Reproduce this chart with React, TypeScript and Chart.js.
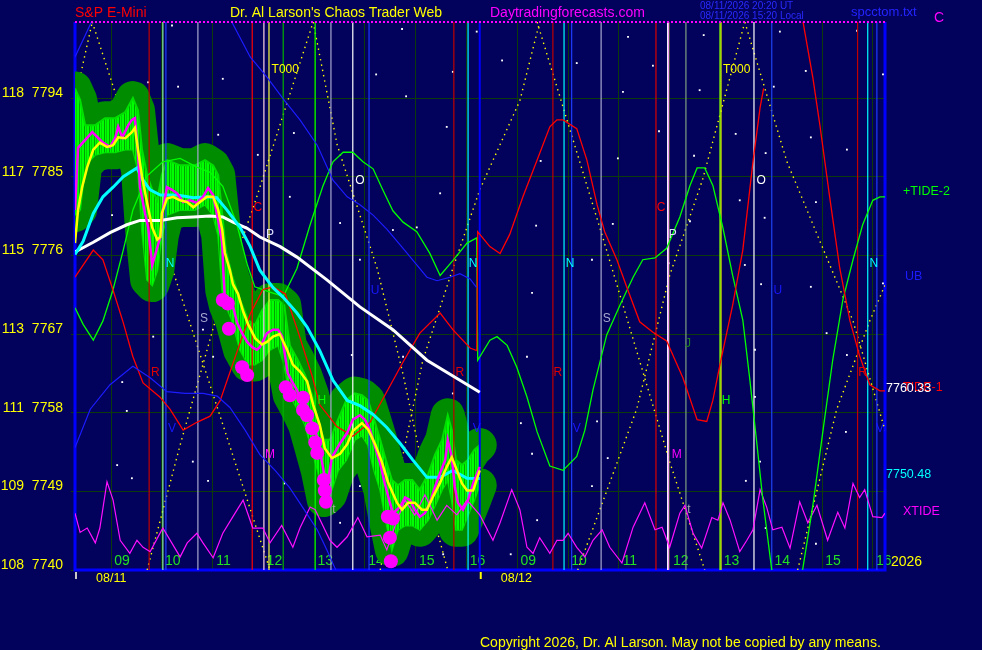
import { useEffect, useRef } from "react"
import { Chart, registerables, type ChartConfiguration, type Plugin } from "chart.js"

Chart.register(...registerables)

// x values are session hours: day 1 = hour, day 2 = hour + 8
const X_MIN = 8.29
const X_MAX = 24.24
const Y_MIN = 7740
const Y_MAX = 7802.7

const hourTicks = [9, 10, 11, 12, 13, 14, 15, 16, 17, 18, 19, 20, 21, 22, 23, 24]
const hourLabels = ["09", "10", "11", "12", "13", "14", "15", "16", "09", "10", "11", "12", "13", "14", "15", "16"]
const dayStarts = [8.29, 16.26]
const dayLabels = ["08/11", "08/12"]

const priceTicks = [7740, 7749, 7758, 7767, 7776, 7785, 7794]
const altTicks = ["108", "109", "111", "113", "115", "117", "118"]

// E-mini closes (magenta)
const price: [number, number][] = [
  [8.29, 7781.2], [8.35, 7788.3], [8.63, 7790.1], [8.82, 7789.0], [8.98, 7788.4], [9.08, 7789.4],
  [9.14, 7790.7], [9.22, 7789.5], [9.34, 7790.9], [9.41, 7791.5], [9.47, 7791.7], [9.53, 7787.7],
  [9.57, 7783.8], [9.67, 7780.8], [9.73, 7779.2], [9.81, 7774.9], [9.97, 7778.1], [10.02, 7781.2],
  [10.1, 7783.8], [10.2, 7783.5], [10.3, 7783.1], [10.42, 7782.1], [10.56, 7782.3], [10.69, 7782.0],
  [10.81, 7782.7], [10.91, 7783.7], [11.01, 7782.9], [11.11, 7780.0], [11.19, 7777.4], [11.21, 7774.3],
  [11.24, 7771.2], [11.38, 7770.7], [11.48, 7768.3], [11.58, 7767.1], [11.68, 7766.1], [11.78, 7765.5],
  [11.87, 7765.2], [11.93, 7765.5], [12.07, 7767.1], [12.19, 7767.5], [12.29, 7767.5], [12.37, 7766.7],
  [12.43, 7764.4], [12.48, 7762.5], [12.58, 7761.4], [12.66, 7760.6], [12.76, 7759.1], [12.86, 7758.0],
  [12.96, 7756.8], [13.06, 7755.2], [13.11, 7753.7], [13.21, 7750.6], [13.25, 7749.5], [13.35, 7752.9],
  [13.51, 7754.5], [13.65, 7755.7], [13.76, 7757.2], [13.9, 7757.7], [14.0, 7757.2], [14.1, 7756.0],
  [14.2, 7754.1], [14.3, 7752.2], [14.39, 7749.9], [14.49, 7747.7], [14.55, 7746.5], [14.69, 7747.2],
  [14.79, 7748.3], [14.89, 7748.0], [14.98, 7746.9], [15.08, 7746.1], [15.18, 7746.5], [15.28, 7747.7],
  [15.38, 7749.5], [15.48, 7751.1], [15.58, 7752.6], [15.63, 7754.9], [15.71, 7752.9], [15.77, 7749.5],
  [15.83, 7747.7], [15.93, 7746.9], [16.03, 7748.0], [16.13, 7749.9], [16.26, 7751.8],
]

// bar range envelope: [time, high, low]
const barRange: [number, number, number][] = [
  [8.29, 7795.1, 7780.6], [8.39, 7793.8, 7781.2], [8.49, 7790.9, 7786.3], [8.69, 7790.9, 7787.5],
  [8.88, 7791.7, 7787.8], [9.08, 7791.7, 7787.8], [9.28, 7792.4, 7788.1], [9.43, 7794.0, 7788.1],
  [9.53, 7792.6, 7785.8], [9.61, 7788.1, 7778.9], [9.71, 7785.2, 7773.2], [9.81, 7783.5, 7772.6],
  [9.91, 7782.3, 7774.3], [10.0, 7785.2, 7778.3], [10.1, 7786.9, 7780.6], [10.36, 7786.3, 7781.2],
  [10.65, 7786.3, 7781.2], [10.85, 7786.9, 7781.8], [11.01, 7786.3, 7780.6], [11.11, 7785.2, 7778.3],
  [11.19, 7780.6, 7772.0], [11.26, 7776.6, 7770.3], [11.38, 7773.7, 7768.6], [11.54, 7770.9, 7765.2],
  [11.7, 7768.6, 7763.5], [11.83, 7768.0, 7763.5], [11.97, 7769.7, 7764.0], [12.13, 7770.9, 7765.2],
  [12.29, 7770.9, 7765.7], [12.41, 7770.3, 7763.5], [12.52, 7765.7, 7760.0], [12.68, 7764.0, 7758.3],
  [12.82, 7762.3, 7756.6], [12.96, 7760.0, 7753.7], [13.07, 7757.2, 7751.4], [13.19, 7754.9, 7748.0],
  [13.31, 7754.9, 7748.6], [13.47, 7757.2, 7751.4], [13.63, 7759.4, 7752.6], [13.8, 7760.2, 7754.9],
  [13.94, 7760.0, 7755.4], [14.06, 7759.4, 7754.3], [14.18, 7757.2, 7751.4], [14.3, 7754.9, 7749.2],
  [14.41, 7752.6, 7745.7], [14.53, 7750.3, 7742.3], [14.65, 7749.7, 7744.6], [14.79, 7750.3, 7745.1],
  [14.93, 7750.3, 7745.1], [15.08, 7749.2, 7744.6], [15.24, 7750.9, 7745.7], [15.38, 7753.2, 7747.4],
  [15.52, 7754.9, 7749.2], [15.63, 7757.7, 7750.3], [15.71, 7756.0, 7748.0], [15.79, 7752.6, 7744.6],
  [15.91, 7752.0, 7744.6], [16.03, 7752.6, 7746.3], [16.15, 7753.7, 7748.0], [16.26, 7754.3, 7749.7],
]

const fastAvg: [number, number][] = [
  [8.29, 7777.4], [8.35, 7781.2], [8.43, 7783.8], [8.53, 7786.1], [8.65, 7788.1], [8.78, 7788.9],
  [8.92, 7788.4], [9.04, 7788.6], [9.14, 7789.5], [9.28, 7789.4], [9.41, 7790.1], [9.47, 7790.6],
  [9.53, 7788.1], [9.61, 7785.0], [9.71, 7782.0], [9.81, 7779.2], [9.91, 7777.8], [9.97, 7778.1],
  [10.0, 7780.8], [10.1, 7782.5], [10.22, 7782.7], [10.36, 7782.3], [10.5, 7782.1], [10.62, 7781.5],
  [10.75, 7782.1], [10.89, 7782.7], [11.01, 7782.7], [11.11, 7781.2], [11.19, 7778.9], [11.24, 7776.3],
  [11.34, 7774.3], [11.4, 7772.7], [11.5, 7771.6], [11.6, 7769.6], [11.7, 7768.1], [11.84, 7766.5],
  [11.97, 7765.8], [12.07, 7766.1], [12.19, 7766.7], [12.32, 7767.0], [12.46, 7765.3], [12.58, 7763.5],
  [12.72, 7762.7], [12.86, 7761.6], [12.98, 7758.9], [13.11, 7756.6], [13.21, 7753.9], [13.35, 7752.8],
  [13.51, 7753.3], [13.65, 7754.4], [13.76, 7755.9], [13.94, 7756.8], [14.06, 7756.1], [14.2, 7754.4],
  [14.33, 7752.4], [14.45, 7750.1], [14.63, 7747.7], [14.73, 7746.9], [14.85, 7747.7], [14.98, 7747.7],
  [15.12, 7746.9], [15.22, 7746.9], [15.34, 7748.4], [15.48, 7750.0], [15.61, 7751.8], [15.71, 7752.9],
  [15.81, 7751.4], [15.91, 7749.9], [16.01, 7749.1], [16.13, 7749.1], [16.26, 7751.4],
]

const midAvg: [number, number][] = [
  [8.29, 7776.1], [8.45, 7777.6], [8.65, 7780.8], [8.84, 7782.7], [9.04, 7783.8], [9.24, 7785.0],
  [9.51, 7786.0], [9.63, 7784.6], [9.77, 7783.5], [9.97, 7782.9], [10.3, 7782.9], [10.62, 7782.6],
  [10.89, 7782.7], [11.08, 7782.6], [11.28, 7781.2], [11.54, 7779.2], [11.74, 7777.0], [11.93, 7774.3],
  [12.19, 7772.3], [12.39, 7771.2], [12.66, 7769.4], [12.86, 7767.8], [13.11, 7765.1], [13.37, 7761.7],
  [13.65, 7759.4], [13.9, 7758.8], [14.16, 7757.8], [14.43, 7756.3], [14.69, 7754.5], [14.94, 7752.6],
  [15.22, 7750.6], [15.48, 7750.6], [15.73, 7751.4], [16.01, 7750.5], [16.26, 7750.48],
]

const slowAvg: [number, number][] = [
  [8.29, 7776.4], [8.65, 7777.5], [8.98, 7778.6], [9.31, 7779.5], [9.57, 7780.0], [9.97, 7780.0],
  [10.3, 7780.3], [10.62, 7780.4], [10.95, 7780.5], [11.2, 7780.4], [11.4, 7779.8], [11.68, 7779.1],
  [11.93, 7778.1], [12.33, 7777.0], [12.66, 7775.8], [13.25, 7773.2], [13.9, 7770.1], [14.55, 7767.5],
  [15.22, 7764.0], [15.87, 7761.7], [16.26, 7760.33],
]

const lowDots: [number, number][] = [
  [11.2, 7770.9], [11.3, 7770.5], [11.32, 7767.6], [11.58, 7763.2], [11.68, 7762.3], [12.44, 7760.9],
  [12.52, 7760.0], [12.78, 7759.7], [12.78, 7758.3], [12.86, 7757.7], [12.96, 7756.2], [13.02, 7754.6],
  [13.06, 7753.4], [13.19, 7750.3], [13.21, 7749.1], [13.23, 7747.8], [14.45, 7746.1], [14.55, 7745.9],
  [14.49, 7743.7], [14.51, 7741.0],
]

const tide1: [number, number | null][] = [
  [8.29, 7773.5], [8.65, 7776.6], [8.84, 7775.5], [9.04, 7772.0], [9.24, 7768.3], [9.43, 7764.4],
  [9.63, 7761.4], [9.96, 7759.8], [10.16, 7758.4], [10.42, 7756.0], [10.69, 7756.9], [10.95, 7757.6],
  [11.15, 7759.4], [11.44, 7764.3], [11.74, 7769.3], [11.99, 7772.1], [12.19, 7772.4], [12.43, 7771.6],
  [12.68, 7767.3], [12.96, 7762.2], [13.11, 7758.9], [13.45, 7756.4], [13.76, 7755.3], [14.1, 7756.9],
  [14.43, 7760.4], [14.75, 7763.8], [15.08, 7767.1], [15.48, 7769.4], [15.73, 7767.5], [16.07, 7765.4],
  [16.2, 7765.1], [16.22, 7778.7], [16.46, 7777.0], [16.66, 7776.2], [16.85, 7778.4], [17.11, 7782.7],
  [17.39, 7786.9], [17.64, 7790.7], [17.78, 7791.5], [17.9, 7791.5], [18.17, 7790.5], [18.37, 7786.9],
  [18.57, 7781.8], [18.72, 7778.7], [18.96, 7775.5], [19.16, 7772.3], [19.41, 7768.4], [19.67, 7767.2],
  [19.94, 7766.2], [20.26, 7762.0], [20.54, 7757.2], [20.73, 7757.0], [20.85, 7759.4], [20.99, 7763.5],
  [21.24, 7770.3], [21.44, 7776.6], [21.64, 7786.7], [21.78, 7792.9], [21.85, 7795.1], [22.3, null],
  [22.62, 7802.9], [22.82, 7796.3], [22.96, 7790.8], [23.15, 7782.7], [23.35, 7774.5], [23.55, 7768.5],
  [23.74, 7764.5], [23.94, 7761.2], [24.14, 7760.5], [24.24, 7760.5],
]

const tide2: [number, number][] = [
  [8.29, 7770.0], [8.45, 7768.1], [8.65, 7766.3], [8.84, 7768.5], [9.04, 7772.1], [9.24, 7776.6],
  [9.43, 7781.2], [9.71, 7785.1], [10.02, 7786.7], [10.36, 7787.1], [10.69, 7786.1], [10.95, 7785.5],
  [11.2, 7783.9], [11.48, 7779.5], [11.68, 7775.0], [11.83, 7772.4], [12.13, 7771.8], [12.39, 7771.3],
  [12.66, 7774.5], [12.92, 7779.5], [13.17, 7783.9], [13.37, 7786.7], [13.57, 7787.8], [13.76, 7787.8],
  [13.96, 7786.7], [14.16, 7785.9], [14.35, 7783.5], [14.55, 7781.1], [14.75, 7779.8], [15.02, 7778.7],
  [15.28, 7776.2], [15.48, 7773.7], [15.73, 7775.4], [16.01, 7777.4], [16.2, 7778.0], [16.22, 7764.0],
  [16.46, 7766.3], [16.6, 7766.7], [16.8, 7765.7], [16.99, 7763.2], [17.19, 7759.8], [17.39, 7755.8],
  [17.64, 7751.9], [17.9, 7751.4], [18.17, 7753.0], [18.33, 7756.0], [18.49, 7760.6], [18.76, 7766.9],
  [19.02, 7770.3], [19.28, 7773.5], [19.47, 7775.5], [19.71, 7775.7], [19.94, 7776.8], [20.2, 7780.4],
  [20.4, 7784.0], [20.54, 7786.0], [20.69, 7786.0], [20.85, 7784.0], [21.05, 7779.1], [21.24, 7773.7],
  [21.44, 7768.6], [21.58, 7761.7], [21.72, 7754.3], [21.83, 7748.3], [22.01, 7740.0], [22.21, 7735.4],
  [22.46, 7736.6], [22.62, 7740.1], [22.82, 7747.4], [23.02, 7756.0], [23.21, 7764.0], [23.41, 7770.9],
  [23.61, 7775.5], [23.8, 7779.5], [24.0, 7782.3], [24.14, 7782.7], [24.24, 7782.7],
]

const upperBand: [number, number | null][] = [
  [8.29, 7798.7], [8.72, 7804.0], [9.5, null], [11.26, 7804.0], [11.74, 7798.7], [12.07, 7796.4],
  [12.39, 7793.9], [12.72, 7791.5], [13.06, 7788.6], [13.37, 7784.6], [13.65, 7782.7], [13.9, 7781.8],
  [14.16, 7780.6], [14.43, 7779.0], [14.75, 7776.8], [15.02, 7774.9], [15.22, 7773.5], [15.42, 7773.1],
  [15.67, 7773.5], [15.87, 7773.9], [16.07, 7773.3], [16.2, 7772.3],
]

const lowerBand: [number, number][] = [
  [8.29, 7754.0], [8.59, 7758.4], [8.98, 7761.2], [9.43, 7763.3], [9.77, 7762.0], [10.1, 7760.4],
  [10.46, 7760.2], [10.81, 7760.2], [11.09, 7759.9], [11.34, 7758.6], [11.64, 7756.0], [11.93, 7753.2],
  [12.23, 7751.4], [12.52, 7749.4], [12.78, 7747.1], [13.06, 7744.6], [13.25, 7742.3], [13.51, 7738.9],
]

const xtide: [number, number][] = [
  [8.29, 7746.5], [8.39, 7744.3], [8.53, 7744.8], [8.69, 7743.1], [8.78, 7744.8], [8.92, 7750.1],
  [9.04, 7748.0], [9.18, 7743.4], [9.37, 7741.9], [9.51, 7743.4], [9.63, 7742.6], [9.77, 7742.1],
  [10.02, 7744.8], [10.36, 7741.5], [10.5, 7743.1], [10.69, 7744.2], [10.81, 7743.1], [11.01, 7741.4],
  [11.2, 7744.2], [11.4, 7746.1], [11.6, 7748.0], [11.69, 7746.5], [11.79, 7744.8], [11.99, 7744.8],
  [12.13, 7743.1], [12.36, 7745.1], [12.58, 7742.6], [12.72, 7744.8], [12.92, 7747.2], [13.02, 7746.9],
  [13.31, 7743.4], [13.45, 7742.6], [13.65, 7743.8], [13.86, 7746.0], [14.04, 7743.8], [14.3, 7744.0],
  [14.43, 7742.3], [14.63, 7745.7], [14.79, 7748.0], [14.98, 7746.3], [15.18, 7748.6], [15.42, 7745.7],
  [15.61, 7747.4], [15.81, 7746.3], [16.01, 7748.0], [16.26, 7746.3], [16.52, 7743.4], [16.66, 7745.4],
  [16.89, 7749.2], [17.05, 7746.9], [17.19, 7742.6], [17.31, 7741.9], [17.44, 7743.7], [17.64, 7741.9],
  [17.78, 7743.4], [17.9, 7743.4], [18.0, 7744.2], [18.17, 7742.6], [18.33, 7741.5], [18.49, 7743.4],
  [18.67, 7744.6], [18.82, 7742.6], [19.06, 7740.8], [19.28, 7744.9], [19.51, 7747.7], [19.71, 7744.6],
  [19.85, 7744.9], [20.0, 7742.6], [20.2, 7746.5], [20.3, 7747.4], [20.46, 7744.2], [20.63, 7742.5],
  [20.83, 7746.0], [20.95, 7745.7], [21.05, 7747.7], [21.19, 7745.7], [21.38, 7742.1], [21.52, 7743.4],
  [21.64, 7744.6], [21.78, 7749.2], [21.91, 7747.2], [22.03, 7744.6], [22.21, 7744.9], [22.37, 7742.5],
  [22.56, 7747.8], [22.72, 7745.4], [22.9, 7747.4], [23.11, 7743.4], [23.31, 7746.6], [23.45, 7744.8],
  [23.61, 7749.9], [23.74, 7748.3], [23.84, 7749.2], [24.0, 7746.1], [24.18, 7746.0], [24.24, 7746.5],
]

// dotted time-price guides
const guideLines: [number, number][][] = [
  [[8.29, 7793.8], [8.63, 7802.7]],
  [[8.63, 7802.7], [12.13, 7740.0]],
  [[9.71, 7740.0], [10.36, 7754.3], [11.15, 7770.5], [11.87, 7782.7], [12.98, 7802.7]],
  [[12.98, 7802.7], [13.45, 7788.7], [14.24, 7774.5], [14.75, 7762.4], [15.34, 7746.2], [15.63, 7740.0]],
  [[14.3, 7740.0], [14.75, 7753.2], [15.14, 7764.0], [15.73, 7774.5], [16.26, 7783.5], [17.05, 7793.7], [17.44, 7802.7]],
  [[17.39, 7802.7], [18.69, 7777.9], [20.0, 7752.4], [20.69, 7740.0]],
  [[18.19, 7740.0], [19.35, 7758.4], [20.0, 7773.7], [20.65, 7784.7], [21.48, 7802.7]],
  [[21.48, 7802.7], [22.31, 7786.7], [23.61, 7768.5], [24.24, 7756.0]],
  [[22.52, 7740.0], [23.29, 7758.4], [23.94, 7768.5], [24.24, 7772.6]],
]

const vLineTimes = [
  9.75, 10.02, 10.08, 10.71, 11.78, 12.01, 12.11, 12.39, 13.02, 13.33, 13.76, 14.08, 15.75, 16.03, 16.26,
  17.7, 17.92, 18.07, 18.65, 19.73, 19.96, 19.98, 20.32, 20.99, 21.01, 21.66, 22.01, 23.7, 23.9, 24.08,
]
const vLineColors = [
  "#c00000", "#90ff90", "#1e3cff", "#a8a8d0", "#ff0000", "#ffc8ff", "#ffff40", "#00b000", "#00ff00",
  "#a8a8d0", "#ffffff", "#1e3cff", "#c00000", "#00ffff", "#0000ff",
  "#c00000", "#00ffff", "#1e3cff", "#a8a8d0", "#e00000", "#ffffff", "#ff80ff", "#80a080", "#80ff00",
  "#ffff00", "#ffffff", "#1e3cff", "#c00000", "#00ffff", "#1e3cff",
]

const stars: [number, number][] = [
  [9.73, 7795.8], [10.2, 7802.3], [10.32, 7795.3], [11.2, 7796.2], [11.11, 7789.8], [11.89, 7787.5],
  [12.6, 7790.0], [14.22, 7796.7], [14.73, 7801.9], [14.81, 7794.2], [15.61, 7790.7], [15.73, 7797.0],
  [16.2, 7801.6], [15.48, 7783.1], [16.7, 7798.3], [18.17, 7798.0], [19.08, 7794.7], [19.67, 7797.7],
  [19.18, 7801.0], [20.59, 7794.9], [20.67, 7801.2], [19.79, 7790.2], [17.46, 7786.8], [18.98, 7787.1],
  [20.48, 7787.4], [21.3, 7789.9], [22.05, 7795.3], [22.17, 7801.6], [22.68, 7797.1], [22.78, 7789.5],
  [23.49, 7788.1], [23.69, 7801.7], [24.2, 7796.7], [21.89, 7787.7], [9.12, 7752.0], [9.41, 7750.5],
  [10.61, 7752.4], [10.91, 7750.2], [12.41, 7749.9], [13.51, 7745.4], [13.9, 7749.6], [15.54, 7741.8],
  [17.07, 7756.8], [17.29, 7753.3], [17.39, 7745.7], [16.87, 7741.8], [18.57, 7757.0], [18.78, 7752.8],
  [18.47, 7749.6], [21.5, 7750.2], [21.78, 7752.4], [21.89, 7744.8], [22.88, 7743.0], [23.47, 7755.8],
  [17.37, 7779.4], [17.29, 7771.7], [17.19, 7764.4], [18.47, 7775.5], [18.88, 7779.6], [19.98, 7775.1],
  [20.4, 7779.9], [21.38, 7782.3], [21.87, 7780.3], [21.48, 7774.9], [21.8, 7772.7], [21.68, 7765.2],
  [21.68, 7759.8], [22.88, 7782.1], [22.78, 7772.4], [23.09, 7767.1], [23.49, 7764.6], [24.2, 7772.8],
  [9.02, 7780.6], [9.41, 7774.5], [9.22, 7761.5], [9.31, 7758.2], [9.83, 7766.7], [10.81, 7767.5],
  [11.01, 7764.4], [12.52, 7782.7], [13.51, 7779.7], [13.9, 7775.5], [15.02, 7779.2], [14.55, 7778.9],
  [14.75, 7764.4], [15.73, 7760.2], [13.74, 7764.6],
]

// cycle marker letters: [label, time, price]
const cycleMarks: [string, number, number][] = [
  ["T000", 12.43, 7797.2], ["T000", 21.32, 7797.2],
  ["O", 13.9, 7784.6], ["O", 21.8, 7784.6],
  ["C", 11.89, 7781.4], ["C", 19.83, 7781.4],
  ["P", 12.13, 7778.4], ["P", 20.06, 7778.4],
  ["N", 10.16, 7775.1], ["N", 16.13, 7775.1], ["N", 18.04, 7775.1], ["N", 24.02, 7775.1],
  ["U", 14.2, 7772.0], ["U", 22.13, 7772.0],
  ["S", 10.83, 7768.8], ["S", 18.76, 7768.8],
  ["J", 20.36, 7765.9],
  ["R", 9.87, 7762.6], ["R", 15.87, 7762.6], ["R", 17.8, 7762.6], ["R", 23.8, 7762.6],
  ["H", 13.15, 7759.4], ["H", 21.11, 7759.4],
  ["V", 10.2, 7756.2], ["V", 16.2, 7756.2], ["V", 18.17, 7756.2], ["V", 24.14, 7756.2],
  ["M", 12.13, 7753.2], ["M", 20.14, 7753.2],
  ["t", 13.39, 7746.9], ["t", 20.38, 7746.9],
]
const markColors: Record<string, string> = {
  T000: "#ffff00", O: "#ffffff", C: "#ff0000", P: "#e0e0ff", N: "#00ffff", U: "#1818ff",
  S: "#a8a8d0", J: "#208020", R: "#dd0000", H: "#00ff00", V: "#1818ff", M: "#ff00ff", t: "#a8a8a8",
}

const BG = "#02025c"
const GRID = "#0c3a0c"
const FONT = "'Liberation Sans', Arial, sans-serif"

const last = (a: [number, number | null][]) => a[a.length - 1][1] as number
const pts = (a: [number, number | null][]) => a.map(([x, y]) => ({ x, y }))

const chaosPlugin: Plugin<"line"> = {
  id: "chaosDecor",
  beforeDraw(chart) {
    const { ctx, width, height } = chart
    ctx.save()
    ctx.fillStyle = BG
    ctx.fillRect(0, 0, width, height)
    ctx.restore()
  },
  beforeDatasetsDraw(chart) {
    const { ctx, chartArea: a } = chart
    ctx.save()
    ctx.strokeStyle = "#0000ff"
    ctx.lineWidth = 3
    ctx.beginPath()
    ctx.moveTo(a.left, a.top)
    ctx.lineTo(a.left, a.bottom)
    ctx.lineTo(a.right, a.bottom)
    ctx.lineTo(a.right, a.top)
    ctx.stroke()
    ctx.restore()
  },
  afterDatasetsDraw(chart) {
    const { ctx, chartArea: a, scales } = chart
    const xs = scales.x
    const ys = scales.y
    ctx.save()
    // top dotted rule
    ctx.strokeStyle = "#ff00ff"
    ctx.lineWidth = 2
    ctx.setLineDash([2, 2])
    ctx.beginPath()
    ctx.moveTo(a.left, a.top)
    ctx.lineTo(a.right, a.top)
    ctx.stroke()
    ctx.setLineDash([])
    // cycle letters
    ctx.font = `12px ${FONT}`
    ctx.textAlign = "center"
    ctx.textBaseline = "middle"
    cycleMarks.forEach(([label, t, v]) => {
      ctx.fillStyle = markColors[label]
      ctx.fillText(label, xs.getPixelForValue(t), ys.getPixelForValue(v))
    })
    ctx.restore()
  },
  afterDraw(chart) {
    const { ctx, chartArea: a, scales } = chart
    const xs = scales.x
    const ys = scales.y
    ctx.save()
    ctx.textBaseline = "middle"
    ctx.textAlign = "left"

    // header
    ctx.font = `14px ${FONT}`
    ctx.fillStyle = "#ff0000"
    ctx.fillText("S&P E-Mini", 75, 13)
    ctx.fillStyle = "#ffff00"
    ctx.fillText("Dr. Al Larson's Chaos Trader Web", 230, 13)
    ctx.fillStyle = "#ff00ff"
    ctx.fillText("Daytradingforecasts.com", 490, 13)
    ctx.font = `10px ${FONT}`
    ctx.fillStyle = "#2a2aff"
    ctx.fillText("08/11/2026 20:20 UT", 700, 6)
    ctx.fillText("08/11/2026 15:20 Local", 700, 16)
    ctx.font = `13px ${FONT}`
    ctx.fillStyle = "#2424ff"
    ctx.fillText("spcctom.txt", 851, 12)
    ctx.font = `14px ${FONT}`
    ctx.fillStyle = "#ff00ff"
    ctx.fillText("C", 934, 18)

    // day marks and dates
    dayStarts.forEach((t, i) => {
      const px = xs.getPixelForValue(t)
      ctx.strokeStyle = i === 0 ? "#c8c8c8" : "#ffff00"
      ctx.lineWidth = 2
      ctx.beginPath()
      ctx.moveTo(px + 1, a.bottom + 2)
      ctx.lineTo(px + 1, a.bottom + 9)
      ctx.stroke()
      ctx.font = `12.5px ${FONT}`
      ctx.fillStyle = "#ffff00"
      ctx.fillText(dayLabels[i], px + 21, a.bottom + 9)
    })

    // right side labels
    const side = [
      { text: "+TIDE-2", color: "#00ff00", v: last(tide2), dx: 18, dy: -5 },
      { text: "UB", color: "#1c1cff", v: last(upperBand), dx: 20, dy: -11 },
      { text: "TIDE-1", color: "#ff0000", v: last(tide1), dx: 18, dy: -3 },
      { text: last(slowAvg).toFixed(2), color: "#ffffff", v: last(slowAvg), dx: 1, dy: -4 },
      { text: last(midAvg).toFixed(2), color: "#00ffff", v: last(midAvg), dx: 1, dy: -4 },
      { text: "XTIDE", color: "#ff00ff", v: last(xtide), dx: 18, dy: -2 },
    ]
    ctx.font = `12.5px ${FONT}`
    side.forEach((s) => {
      ctx.fillStyle = s.color
      ctx.fillText(s.text, a.right + s.dx, ys.getPixelForValue(s.v) + s.dy)
    })
    ctx.font = `14px ${FONT}`
    ctx.fillStyle = "#ffff00"
    ctx.fillText("2026", a.right + 6, a.bottom - 8)

    ctx.fillText("Copyright 2026, Dr. Al Larson. May not be copied by any means.", 480, 643)
    ctx.restore()
  },
}

export default function App() {
  const canvasRef = useRef<HTMLCanvasElement>(null)
  const chartRef = useRef<Chart | null>(null)

  useEffect(() => {
    if (!canvasRef.current) return
    const ctx = canvasRef.current.getContext("2d")
    if (!ctx) return
    if (chartRef.current) chartRef.current.destroy()

    Chart.defaults.font.family = FONT

    // striped texture for the bar ranges
    const tile = document.createElement("canvas")
    tile.width = 5
    tile.height = 1
    const tctx = tile.getContext("2d")
    if (tctx) {
      const cols = ["#00ff00", "#00d400", "#00ff00", "#00ff00", "#00a000"]
      cols.forEach((c, i) => {
        tctx.fillStyle = c
        tctx.fillRect(i, 0, 1, 1)
      })
    }
    const stripes = ctx.createPattern(tile, "repeat") || "#00e000"

    const line = (data: [number, number | null][], color: string, width: number, order: number, extra: object = {}) => ({
      data: pts(data),
      borderColor: color,
      backgroundColor: color,
      borderWidth: width,
      pointRadius: 0,
      fill: false,
      order,
      ...extra,
    })

    const highs = barRange.map(([t, h]) => [t, h] as [number, number])
    const lows = barRange.map(([t, , l]) => [t, l] as [number, number])
    const round = { borderJoinStyle: "round", borderCapStyle: "round" }

    const datasets: any[] = [
      { data: pts(stars), showLine: false, pointRadius: 1.3, pointStyle: "rect", pointBackgroundColor: "#ffffff", pointBorderWidth: 0, order: 100 },
      ...guideLines.map((g) => line(g, "#ffff00", 1.4, 95, { borderDash: [1.4, 4] })),
      line(highs, "#008c00", 34, 90, { ...round, fill: "+1", backgroundColor: "#008c00" }),
      line(lows, "#008c00", 34, 90, round),
      line(highs, "#00e000", 2, 85, { fill: "+1", backgroundColor: stripes }),
      line(lows, "#00e000", 2, 85),
      ...vLineTimes.map((t, i) =>
        line([[t, Y_MIN], [t, Y_MAX]], vLineColors[i], t === 16.26 ? 2 : 1.2, 80)
      ),
      line(lowerBand, "#1c1cff", 1.2, 70),
      line(upperBand, "#1c1cff", 1.2, 70),
      line(tide1, "#ff0000", 1.3, 70),
      line(tide2, "#00ff00", 1.3, 70),
      line(xtide, "#ff10ff", 1.2, 70),
      line(slowAvg, "#ffffff", 3, 50),
      line(midAvg, "#00ffff", 3, 45),
      line(price, "#ff00ff", 2.5, 40),
      line(fastAvg, "#ffff00", 2.5, 35),
      { data: pts(lowDots), showLine: false, pointRadius: 7, pointBackgroundColor: "#ff00ff", pointBorderWidth: 0, order: 30 },
    ]

    const config: ChartConfiguration<"line"> = {
      type: "line",
      data: { datasets },
      options: {
        animation: false,
        responsive: false,
        events: [],
        layout: { padding: { left: 0, right: 97, top: 22, bottom: 0 } },
        plugins: {
          legend: { display: false },
          tooltip: { enabled: false },
        },
        elements: { point: { radius: 0 }, line: { tension: 0 } },
        scales: {
          x: {
            type: "linear",
            min: X_MIN,
            max: X_MAX,
            afterBuildTicks: (s: any) => {
              s.ticks = hourTicks.map((v) => ({ value: v }))
            },
            afterFit: (s: any) => {
              s.height = 80
            },
            ticks: {
              autoSkip: false,
              maxRotation: 0,
              mirror: true,
              labelOffset: 11,
              padding: 0,
              color: "#22e022",
              font: { size: 14, family: FONT },
              callback: (_v: any, i: number) => hourLabels[i],
            },
            grid: { color: GRID, drawTicks: false },
            border: { display: false },
          },
          y: {
            type: "linear",
            min: Y_MIN,
            max: Y_MAX,
            afterBuildTicks: (s: any) => {
              s.ticks = priceTicks.map((v) => ({ value: v }))
            },
            afterFit: (s: any) => {
              s.width = 75
            },
            ticks: {
              padding: 8,
              labelOffset: -5,
              color: "#ffff00",
              font: { size: 14, family: FONT },
              callback: (v: any) => {
                const i = priceTicks.indexOf(Number(v))
                return i >= 0 ? `${altTicks[i]}  ${v}` : ""
              },
            },
            grid: { color: GRID, tickColor: GRID, tickLength: 4 },
            border: { display: false },
          },
        },
      },
      plugins: [chaosPlugin],
    }

    chartRef.current = new Chart(ctx, config)

    return () => {
      if (chartRef.current) {
        chartRef.current.destroy()
        chartRef.current = null
      }
    }
  }, [])

  return (
    <div style={{ position: "absolute", left: 0, top: 0, width: 982, height: 650, background: BG }}>
      <canvas ref={canvasRef} width={982} height={650} style={{ display: "block" }} />
    </div>
  )
}
